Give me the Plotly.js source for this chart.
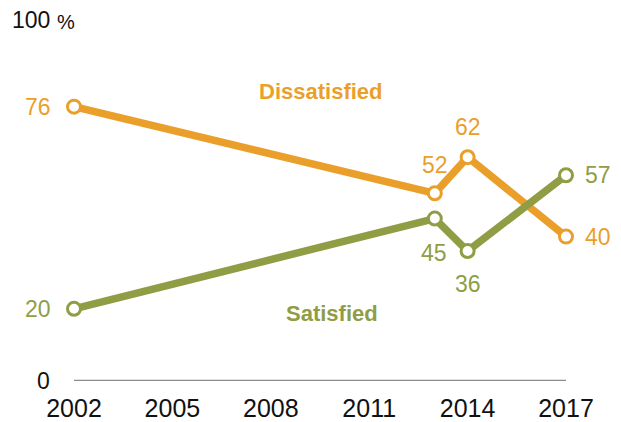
<!DOCTYPE html>
<html><head><meta charset="utf-8">
<script src="https://cdn.plot.ly/plotly-3.0.1.min.js"></script>
<style>body{margin:0;background:#fff}#c{width:621px;height:422px}</style>
</head><body><div id="c"></div>
<script>
const years = [2002, 2013, 2014, 2017];
const dissatisfied = [76, 52, 62, 40];
const satisfied = [20, 45, 36, 57];
const xTicks = [2002, 2005, 2008, 2011, 2014, 2017];
// label offsets in pixels (x, y) relative to each point
const dissShift = [[-36, 0], [0, 28], [0, 30], [32, 0]];
const satShift = [[-36, 0], [-1, -34], [0, -33], [32, 0]];
const orange = '#EA9F2B';
const green = '#909D45';
const font = 'Liberation Sans, Arial, sans-serif';

function series(y, color) {
  return {
    x: years, y: y, type: 'scatter', mode: 'lines+markers',
    line: {color: color, width: 7.5},
    marker: {symbol: 'circle', size: 13, color: '#fff', line: {color: color, width: 3}},
    cliponaxis: false, hoverinfo: 'none'
  };
}
function labels(y, color, shifts) {
  return y.map((v, i) => ({
    text: String(v), xref: 'x', yref: 'y', x: years[i], y: v,
    xshift: shifts[i][0], yshift: shifts[i][1], xanchor: 'center', yanchor: 'middle',
    showarrow: false, font: {family: font, size: 23, color: color}
  }));
}

const data = [
  {x: [2002, 2017], y: [0, 0], type: 'scatter', mode: 'lines', line: {color: '#8c8c8c', width: 2.5}, hoverinfo: 'none', cliponaxis: false},
  series(dissatisfied, orange), series(satisfied, green)];

const layout = {
  width: 621, height: 422,
  margin: {l: 74, r: 55, t: 20, b: 41},
  paper_bgcolor: '#fff', plot_bgcolor: '#fff',
  showlegend: false,
  xaxis: {range: [2002, 2017], tickvals: xTicks, ticktext: xTicks.map(String), showgrid: false, zeroline: false,
    showline: false, ticks: '', tickfont: {family: font, size: 25, color: '#111'}, ticklabelstandoff: 10, fixedrange: true},
  yaxis: {range: [0, 100], showticklabels: false, showgrid: false, zeroline: false, showline: false, fixedrange: true},
  annotations: [
    {text: '0', xref: 'paper', yref: 'y', x: -0.044, y: 0, xanchor: 'right', yanchor: 'middle', showarrow: false,
      font: {family: font, size: 23, color: '#111'}},
    {text: '100', xref: 'paper', yref: 'y', x: -0.044, y: 100, yshift: 0, xanchor: 'right', yanchor: 'middle', showarrow: false,
      font: {family: font, size: 23, color: '#111'}},
    {text: '%', xref: 'paper', yref: 'y', x: -0.038, y: 100, yshift: -2, xanchor: 'left', yanchor: 'middle', showarrow: false,
      font: {family: font, size: 20, color: '#111'}},
    {text: '<b>Dissatisfied</b>', xref: 'x', yref: 'y', x: 2009.53, y: 80.3, xanchor: 'center', yanchor: 'middle', showarrow: false,
      font: {family: font, size: 22, color: orange}},
    {text: '<b>Satisfied</b>', xref: 'x', yref: 'y', x: 2009.87, y: 18.8, xanchor: 'center', yanchor: 'middle', showarrow: false,
      font: {family: font, size: 22, color: green}}
  ].concat(labels(dissatisfied, orange, dissShift), labels(satisfied, green, satShift))
};
Plotly.newPlot('c', data, layout, {displayModeBar: false, staticPlot: true});
</script></body></html>
